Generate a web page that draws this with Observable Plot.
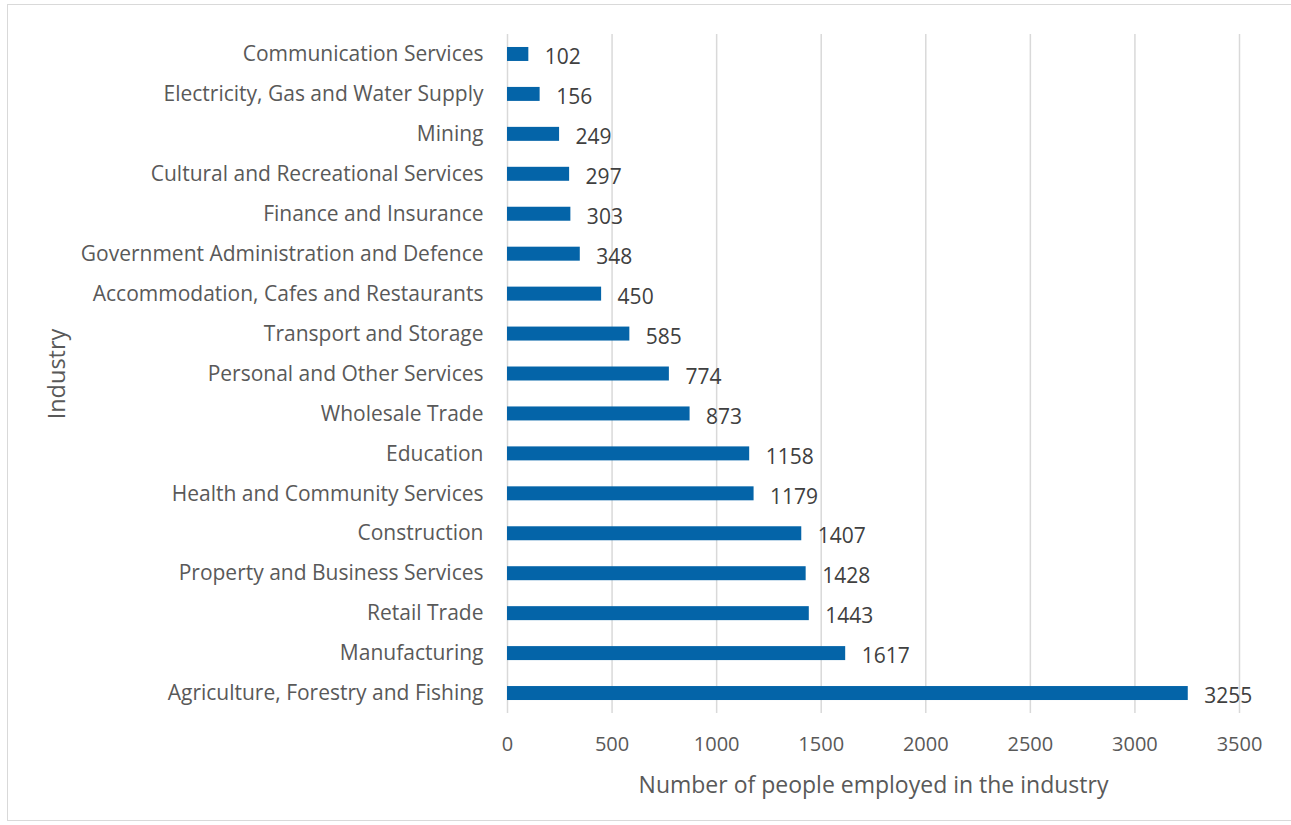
<!DOCTYPE html>
<html>
<head>
<meta charset="utf-8">
<script src="https://cdn.jsdelivr.net/npm/d3@7"></script>
<script src="https://cdn.jsdelivr.net/npm/@observablehq/plot@0.6"></script>
<style>
  html, body { margin: 0; padding: 0; background: #fff; }
  #wrap { position: relative; width: 1291px; height: 825px; overflow: hidden; }
  #frame { position: absolute; left: 7px; top: 4px; width: 1290px; height: 817px; border: 1px solid #d9d9d9; box-sizing: border-box; }
  #chart { position: absolute; left: 0; top: 0; }
</style>
</head>
<body>
<div id="wrap">
  <div id="frame"></div>
  <div id="chart"></div>
</div>
<script>
const industries = [
  "Communication Services",
  "Electricity, Gas and Water Supply",
  "Mining",
  "Cultural and Recreational Services",
  "Finance and Insurance",
  "Government Administration and Defence",
  "Accommodation, Cafes and Restaurants",
  "Transport and Storage",
  "Personal and Other Services",
  "Wholesale Trade",
  "Education",
  "Health and Community Services",
  "Construction",
  "Property and Business Services",
  "Retail Trade",
  "Manufacturing",
  "Agriculture, Forestry and Fishing"
];
const employed = [102, 156, 249, 297, 303, 348, 450, 585, 774, 873, 1158, 1179, 1407, 1428, 1443, 1617, 3255];
const xTicks = [0, 500, 1000, 1500, 2000, 2500, 3000, 3500];
const xLabel = "Number of people employed in the industry";
const yLabel = "Industry";

const data = industries.map((name, i) => ({name, value: employed[i]}));

const chart = Plot.plot({
  width: 1291,
  height: 825,
  marginLeft: 507,
  marginRight: 52,
  marginTop: 34,
  marginBottom: 112,
  style: {fontFamily: "'Open Sans', sans-serif", background: "transparent", overflow: "visible"},
  x: {domain: [0, 3500], ticks: xTicks, label: null},
  y: {domain: industries, paddingInner: 0.65, paddingOuter: 0.325, round: false, label: null},
  marks: [
    Plot.ruleX(xTicks, {stroke: "#d9d9d9", strokeWidth: 1.5}),
    Plot.barX(data, {x: "value", y: "name", fill: "#0464a8"}),
    Plot.text(data, {x: "value", y: "name", text: d => String(d.value), textAnchor: "start", dx: 16, dy: 3, fill: "#404040", fontSize: 21}),
    Plot.axisX({ticks: xTicks, tickFormat: "d", tickSize: 0, tickPadding: 23, fill: "#595959", fontSize: 20, label: null}),
    Plot.axisY({tickSize: 0, tickPadding: 24, fill: "#595959", fontSize: 21, label: null}),
    Plot.text([xLabel], {frameAnchor: "bottom", lineAnchor: "middle", dy: 72, text: d => d, fill: "#595959", fontSize: 23}),
    Plot.text([yLabel], {frameAnchor: "left", textAnchor: "middle", lineAnchor: "middle", dx: -450, rotate: -90, text: d => d, fill: "#595959", fontSize: 23.5})
  ]
});
document.getElementById("chart").appendChild(chart);
</script>
</body>
</html>
